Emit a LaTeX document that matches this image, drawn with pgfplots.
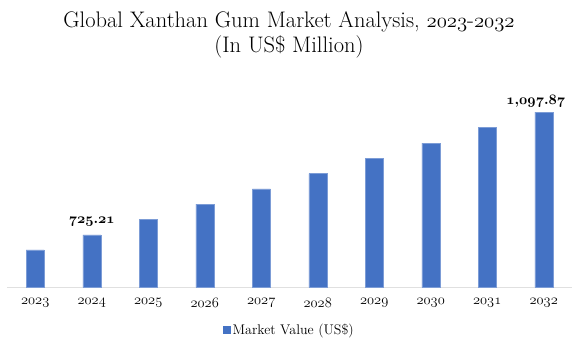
\documentclass[border=0pt]{standalone}
\usepackage{pgfplots}
\pgfplotsset{compat=1.18}
\definecolor{barblue}{HTML}{4472C4}
\newcommand{\os}[1]{$\mathnormal{#1}$}
\newcommand{\osb}[1]{{\boldmath$\mathnormal{#1}$}}
\begin{document}
\begin{tikzpicture}[x=1pt,y=1pt]
\useasboundingbox (0,0) rectangle (583,352);
\node[font=\fontsize{22.5}{26}\selectfont, anchor=base] at (289,324.7) {Global Xanthan Gum Market Analysis, \os{2023}-\os{2032}};
\node[font=\fontsize{22.5}{26}\selectfont, anchor=base] at (289,299) {(In US\$ Million)};
\begin{axis}[
  at={(7pt,64.5pt)}, anchor=south west,
  scale only axis, width=565pt, height=192.5pt,
  ymin=565, ymax=1150, xmin=-0.5, xmax=9.5,
  ybar, bar width=18pt,
  axis y line=none, axis x line*=bottom,
  x axis line style={draw=black!12, line width=0.8pt},
  xtick={0,...,9},
  xticklabels={\os{2023},\os{2024},\os{2025},\os{2026},\os{2027},\os{2028},\os{2029},\os{2030},\os{2031},\os{2032}},
  major tick style={draw=none},
  xticklabel style={font=\fontsize{15.5}{17}\selectfont, yshift=-3pt},
  legend style={at={(0.5,-0.22)}, anchor=center, draw=none, font=\fontsize{14}{16}\selectfont,
    legend cell align=left},
  legend image code/.code={\fill[barblue] (0pt,-3.5pt) rectangle (7pt,3.5pt);},
]
\addplot[fill=barblue, draw=barblue!70!white, line width=0.4pt] coordinates {
  (0,679.5) (1,725.21) (2,772.5) (3,818.5) (4,864.5) (5,911) (6,957) (7,1004) (8,1051) (9,1097.87)};
\addlegendentry{Market Value (US\$)}
\node[anchor=south, font=\fontsize{14}{16}\selectfont, yshift=5pt] at (axis cs:1,725.21) {\osb{725.21}};
\node[anchor=south, font=\fontsize{14}{16}\selectfont, yshift=1pt, xshift=-8pt] at (axis cs:9,1097.87) {\osb{1{,}097.87}};
\end{axis}
\end{tikzpicture}
\end{document}
